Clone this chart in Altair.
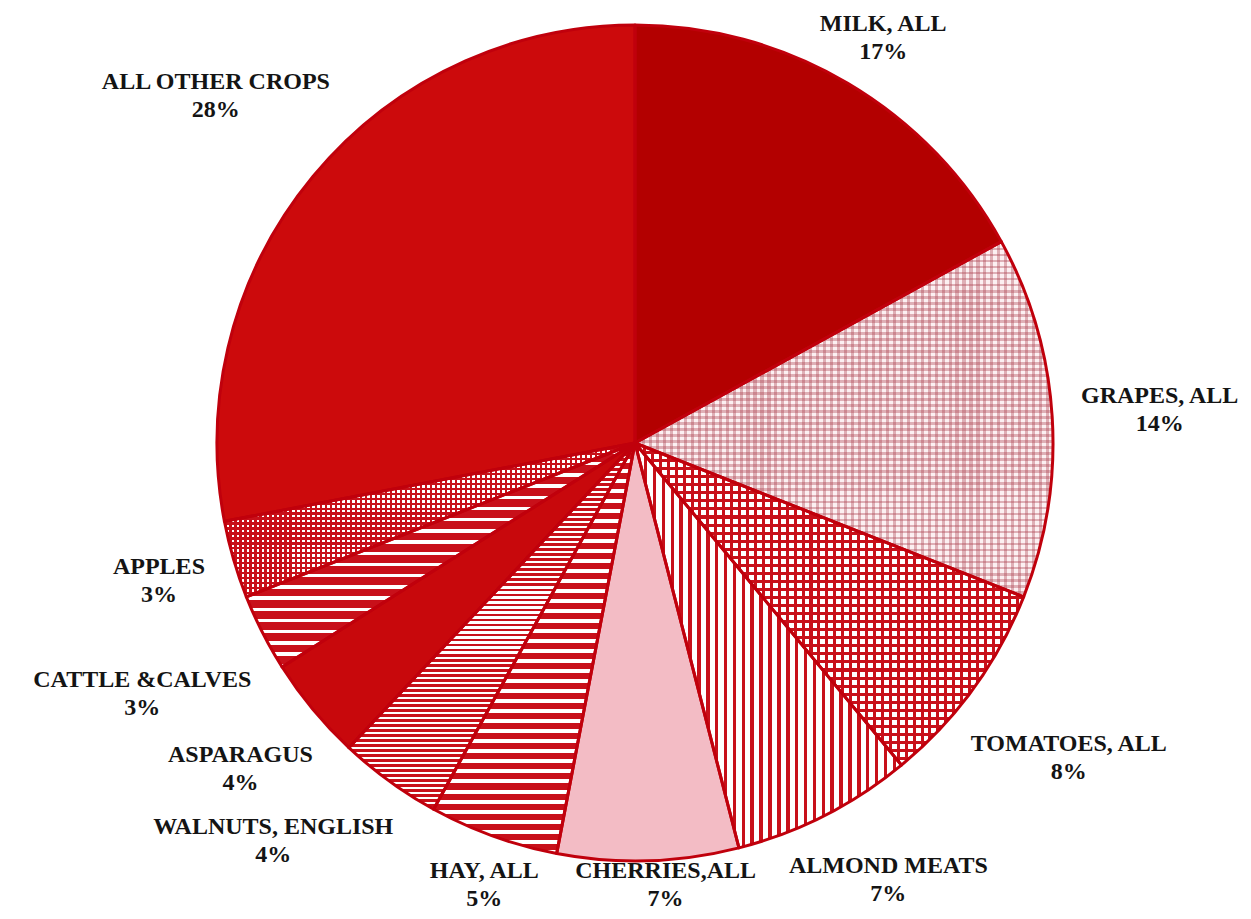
import math
import altair as alt
import pandas as pd

# ---- data ----
names = ["MILK, ALL", "GRAPES, ALL", "TOMATOES, ALL", "ALMOND MEATS", "CHERRIES,ALL",
         "HAY, ALL", "WALNUTS, ENGLISH", "ASPARAGUS", "CATTLE &CALVES", "APPLES",
         "ALL OTHER CROPS"]
pcts = [17, 14, 8, 7, 7, 5, 4, 4, 3, 3, 28]
order = list(range(len(names)))

# ---- layout / style ----
R = 418
CX = 627
CY = 435
W_CHART, H_CHART = 1235, 903
FONT_SIZE = 24
LINE_H = 28
RED = "#c8101a"
CLEAR = "rgba(255,255,255,0)"

styles = {
    "MILK, ALL": [("solid", "#b30000")],
    "GRAPES, ALL": [("solid", "#fcf0f2"), ("h", 6, "rgba(170,60,75,0.36)", 0.45),
                    ("v", 7, "rgba(170,60,75,0.36)", 0.45)],
    "TOMATOES, ALL": [("solid", "#ffffff"), ("h", 8, RED, 0.38), ("v", 8, RED, 0.38)],
    "ALMOND MEATS": [("solid", "#ffffff"), ("v", 9, RED, 0.4)],
    "CHERRIES,ALL": [("solid", "#f3bcc5")],
    "HAY, ALL": [("solid", "#ffffff"), ("h", 10, RED, 0.6)],
    "WALNUTS, ENGLISH": [("solid", "#ffffff"), ("h", 5, RED, 0.55)],
    "ASPARAGUS": [("solid", "#c8080c")],
    "CATTLE &CALVES": [("solid", "#ffffff"), ("h", 11, RED, 0.7)],
    "APPLES": [("solid", "#ffffff"), ("h", 5, RED, 0.45), ("v", 5, RED, 0.45)],
    "ALL OTHER CROPS": [("solid", "#cc0a0c")],
}

# approximate glyph advance widths of a bold Times-like face (per 1000 em)
ADV = {" ": 250, ",": 250, "&": 833, "%": 1000, "A": 722, "B": 667, "C": 722, "D": 722,
       "E": 667, "F": 611, "G": 778, "H": 778, "I": 389, "J": 500, "K": 778, "L": 667,
       "M": 944, "N": 722, "O": 778, "P": 611, "Q": 778, "R": 722, "S": 556, "T": 667,
       "U": 722, "V": 722, "W": 1000, "X": 722, "Y": 722, "Z": 667}


def text_w(s):
    return sum(ADV.get(ch, 500) for ch in s) * FONT_SIZE / 1000.0


# ---- label placement (computed from the data: slice mid-angles, pushed apart on overlap) ----
total = sum(pcts)
mids = []
acc = 0
for p in pcts:
    mids.append((acc + p / 2) / total * 2 * math.pi)
    acc += p
widths = [max(text_w(nm), text_w(f"{p}%")) for nm, p in zip(names, pcts)]
HH = 23  # half height of a two-line label block


def label_xy(i, a):
    s, c = abs(math.sin(a)), abs(math.cos(a))
    d = R + 6 + 22 * s + s * widths[i] / 2 + c * HH
    x = CX + d * math.sin(a)
    y = CY - d * math.cos(a)
    # keep the block inside the drawing
    x = min(max(x, widths[i] / 2 + 4), W_CHART - widths[i] / 2 - 4)
    y = min(max(y, HH + 7), H_CHART - HH - 3)
    return x, y


def label_rect(i, a, mx=16, my=8):
    x, y = label_xy(i, a)
    return (x - widths[i] / 2 - mx, x + widths[i] / 2 + mx, y - HH - my, y + HH + my)


def overlaps(r1, r2):
    return r1[0] < r2[1] and r2[0] < r1[1] and r1[2] < r2[3] and r2[2] < r1[3]


angles = list(mids)
n = len(angles)
for _ in range(4000):
    moved = False
    for i in range(n):
        j = (i + 1) % n
        if overlaps(label_rect(i, angles[i]), label_rect(j, angles[j])):
            angles[i] -= 0.002
            angles[j] += 0.002
            moved = True
    if not moved:
        break

lt, lr = [], []
for i, a in enumerate(angles):
    x, y = label_xy(i, a)
    dx, dy = x - CX, y - CY
    lr.append(math.hypot(dx, dy))
    lt.append((math.atan2(dx, -dy) % (2 * math.pi)) / (2 * math.pi) * 100)

df = pd.DataFrame({"name": names, "pct": pcts, "order": order})
df["lt"] = lt
df["lr"] = lr


def sector_bbox(i):
    s = sum(pcts[:i]) / total * 2 * math.pi
    e = s + pcts[i] / total * 2 * math.pi
    xs, ys = [0.0], [0.0]
    for k in range(201):
        a = s + (e - s) * k / 200
        xs.append(R * math.sin(a))
        ys.append(-R * math.cos(a))
    return max(xs) - min(xs), max(ys) - min(ys)


def stripe_gradient(cnt, color, frac, vertical_lines):
    stops = []
    for k in range(cnt):
        a = k / cnt
        b = (k + frac) / cnt
        c = (k + 1) / cnt
        stops += [alt.GradientStop(color=color, offset=a),
                  alt.GradientStop(color=color, offset=b),
                  alt.GradientStop(color=CLEAR, offset=b),
                  alt.GradientStop(color=CLEAR, offset=c)]
    if vertical_lines:
        return alt.LinearGradient(gradient="linear", stops=stops, x1=0, y1=0, x2=1, y2=0)
    return alt.LinearGradient(gradient="linear", stops=stops, x1=0, y1=0, x2=0, y2=1)


tscale = alt.Scale(domain=[0, 100])

base = alt.Chart(df).transform_window(
    cum="sum(pct)", sort=[alt.SortField("order")], frame=[None, 0]
).transform_calculate(start="datum.cum - datum.pct")

enc = dict(
    theta=alt.Theta("start:Q", scale=tscale, stack=False),
    theta2=alt.Theta2("cum:Q"),
    x=alt.value(CX),
    y=alt.value(CY),
)

layers = []
overlays = []
for i, nm in enumerate(names):
    w, h = sector_bbox(i)
    for spec in styles[nm]:
        if spec[0] == "solid":
            fill = spec[1]
            target = layers
        else:
            kind, pitch, col, frac = spec
            cnt = max(1, round((w if kind == "v" else h) / pitch))
            fill = stripe_gradient(cnt, col, frac, kind == "v")
            target = overlays
        target.append(
            base.transform_filter(alt.datum.order == i)
            .mark_arc(outerRadius=R, fill=fill, strokeWidth=0)
            .encode(**enc)
        )

outline = base.mark_arc(
    outerRadius=R, fillOpacity=0, stroke="#c0000c", strokeWidth=3, strokeJoin="round"
).encode(**enc)

labels = base.transform_calculate(
    label="datum.name + '\\n' + datum.pct + '%'",
).mark_text(
    font="Liberation Serif", fontSize=FONT_SIZE, fontWeight="bold", color="#141414",
    align="center", baseline="middle", lineBreak="\n", lineHeight=LINE_H, dy=-LINE_H / 2,
).encode(
    theta=alt.Theta("lt:Q", scale=tscale, stack=False),
    radius=alt.Radius("lr:Q", scale=None),
    text="label:N",
    x=alt.value(CX),
    y=alt.value(CY),
)

chart = alt.layer(*layers, *overlays, outline, labels).properties(
    width=W_CHART, height=H_CHART, padding=0,
    autosize=alt.AutoSizeParams(type="none"),
).configure_view(stroke=None)

chart.save("out.html", embed_options={"renderer": "svg", "actions": False})
